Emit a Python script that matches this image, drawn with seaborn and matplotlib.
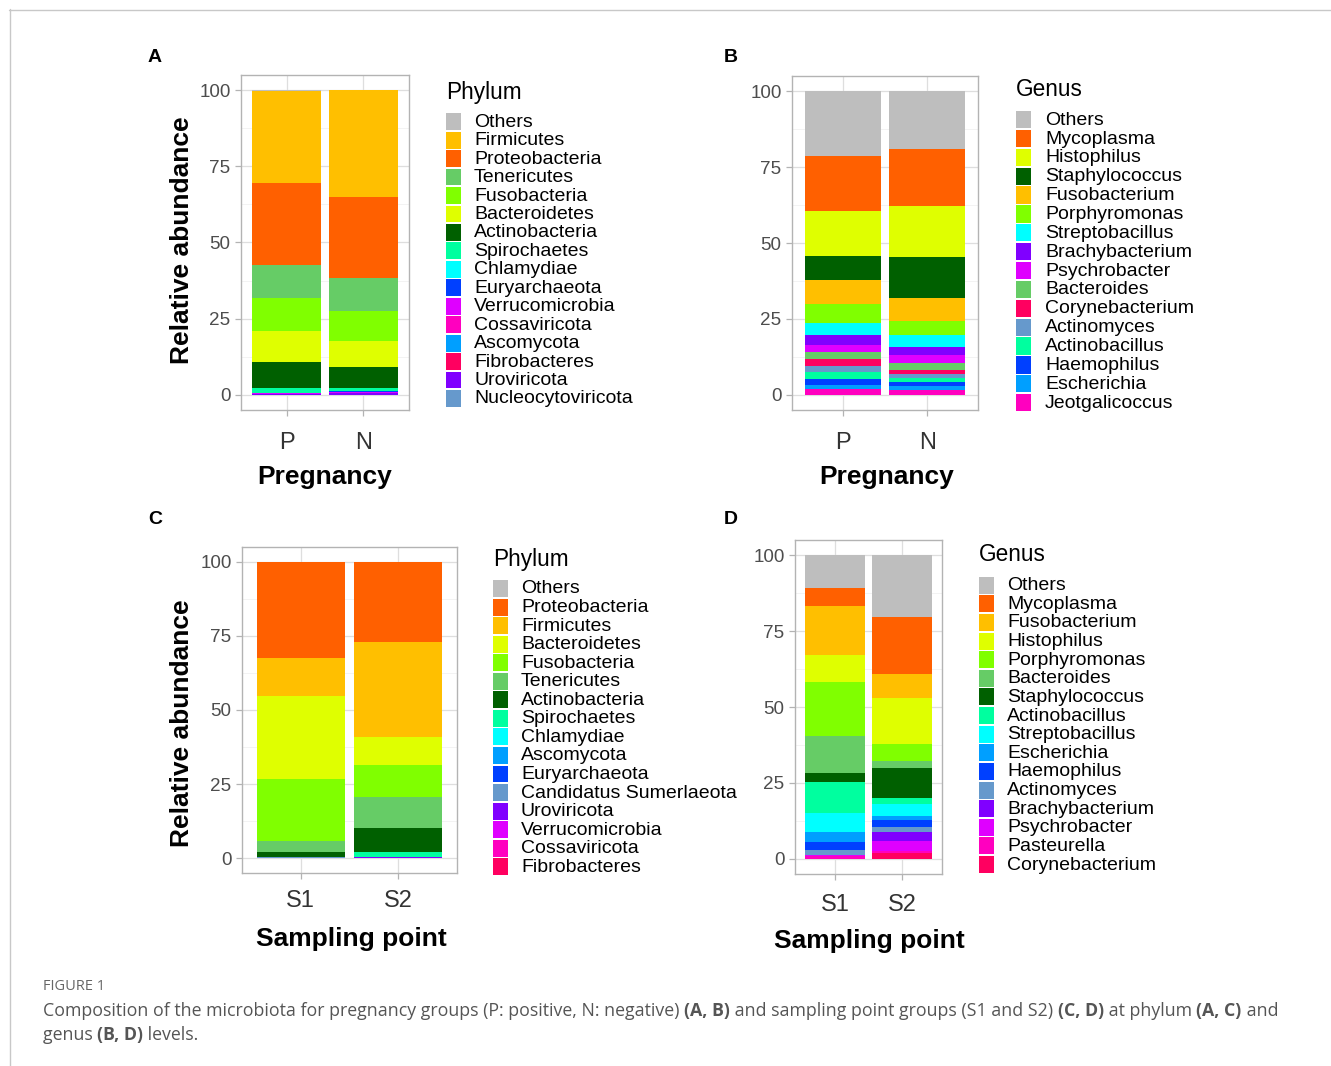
import numpy as np
import pandas as pd
import matplotlib
matplotlib.use("Agg")
import matplotlib.pyplot as plt
import seaborn as sns
from matplotlib.patches import Rectangle
from matplotlib.lines import Line2D

# ---------------- data ----------------
phylum_a = ["Others", "Firmicutes", "Proteobacteria", "Tenericutes", "Fusobacteria",
            "Bacteroidetes", "Actinobacteria", "Spirochaetes", "Chlamydiae", "Euryarchaeota",
            "Verrucomicrobia", "Cossaviricota", "Ascomycota", "Fibrobacteres", "Uroviricota",
            "Nucleocytoviricota"]
groups_ab = ["P", "N"]
a_P = [0.02, 30.2, 27.1, 10.7, 10.8, 10.2, 8.7, 1.5, 0.1, 0.1, 0.1, 0.1, 0.1, 0.05, 0.1, 0.05]
a_N = [0.02, 35.3, 26.6, 10.8, 9.8, 8.6, 6.7, 1.1, 0.1, 0.3, 0.1, 0.1, 0.1, 0.05, 0.4, 0.05]

genus_b = ["Others", "Mycoplasma", "Histophilus", "Staphylococcus", "Fusobacterium",
           "Porphyromonas", "Streptobacillus", "Brachybacterium", "Psychrobacter", "Bacteroides",
           "Corynebacterium", "Actinomyces", "Actinobacillus", "Haemophilus", "Escherichia",
           "Jeotgalicoccus"]
b_P = [21.2, 18.4, 14.6, 7.9, 7.9, 6.2, 4.1, 3.3, 2.2, 2.4, 2.4, 1.9, 2.2, 2.2, 1.3, 1.8]
b_N = [19.2, 18.7, 16.8, 13.5, 7.6, 4.5, 3.8, 2.7, 2.7, 2.2, 1.4, 1.3, 1.3, 1.4, 1.4, 1.5]

phylum_c = ["Others", "Proteobacteria", "Firmicutes", "Bacteroidetes", "Fusobacteria",
            "Tenericutes", "Actinobacteria", "Spirochaetes", "Chlamydiae", "Ascomycota",
            "Euryarchaeota", "Candidatus Sumerlaeota", "Uroviricota", "Verrucomicrobia",
            "Cossaviricota", "Fibrobacteres"]
groups_cd = ["S1", "S2"]
c_S1 = [0.02, 32.5, 12.8, 28.0, 20.9, 3.6, 1.7, 0.1, 0.05, 0.05, 0.05, 0.05, 0.05, 0.05, 0.05, 0.05]
c_S2 = [0.02, 26.9, 32.3, 9.4, 10.6, 10.6, 8.1, 1.5, 0.05, 0.05, 0.05, 0.05, 0.2, 0.05, 0.05, 0.05]

genus_d = ["Others", "Mycoplasma", "Fusobacterium", "Histophilus", "Porphyromonas",
           "Bacteroides", "Staphylococcus", "Actinobacillus", "Streptobacillus", "Escherichia",
           "Haemophilus", "Actinomyces", "Brachybacterium", "Psychrobacter", "Pasteurella",
           "Corynebacterium"]
d_S1 = [11.0, 6.0, 16.1, 8.8, 17.6, 12.2, 3.0, 10.2, 6.3, 3.5, 2.5, 1.6, 0.1, 0.3, 0.8, 0.1]
d_S2 = [20.3, 18.8, 7.8, 15.3, 5.5, 2.4, 9.9, 1.8, 4.2, 1.3, 2.2, 1.6, 2.9, 3.5, 0.5, 2.0]

# ---------------- colours ----------------
GRAY, ORANGE, AMBER, YELLOW = "#BEBEBE", "#FF6000", "#FFBF00", "#DFFF00"
CHART, MGREEN, DGREEN, SPRING = "#80FF00", "#66CC66", "#006000", "#00FF9F"
CYAN, BLUE, VIOLET, MAGENTA = "#00FFFF", "#0040FF", "#8000FF", "#DF00FF"
PINK, AZURE, RED, STEEL = "#FF00BF", "#009FFF", "#FF0060", "#6699CC"

colors = {
    "Others": GRAY, "Firmicutes": AMBER, "Proteobacteria": ORANGE, "Tenericutes": MGREEN,
    "Fusobacteria": CHART, "Bacteroidetes": YELLOW, "Actinobacteria": DGREEN,
    "Spirochaetes": SPRING, "Chlamydiae": CYAN, "Euryarchaeota": BLUE,
    "Verrucomicrobia": MAGENTA, "Cossaviricota": PINK, "Ascomycota": AZURE,
    "Fibrobacteres": RED, "Uroviricota": VIOLET, "Nucleocytoviricota": STEEL,
    "Candidatus Sumerlaeota": STEEL,
    "Mycoplasma": ORANGE, "Histophilus": YELLOW, "Staphylococcus": DGREEN,
    "Fusobacterium": AMBER, "Porphyromonas": CHART, "Streptobacillus": CYAN,
    "Brachybacterium": VIOLET, "Psychrobacter": MAGENTA, "Bacteroides": MGREEN,
    "Corynebacterium": RED, "Actinomyces": STEEL, "Actinobacillus": SPRING,
    "Haemophilus": BLUE, "Escherichia": AZURE, "Jeotgalicoccus": PINK, "Pasteurella": PINK,
}

# ---------------- style ----------------
sns.set_theme(style="white")
plt.rcParams["font.family"] = ["Liberation Sans", "DejaVu Sans"]

W, H = 1331, 1066
fig = plt.figure(figsize=(W / 100, H / 100), dpi=100, facecolor="white")

ax_bg = fig.add_axes([0, 0, 1, 1], zorder=0)
ax_bg.set_xlim(0, W)
ax_bg.set_ylim(H, 0)
ax_bg.axis("off")

# frame lines of the figure page
ax_bg.add_line(Line2D([9, W], [9.5, 9.5], color="#C8C8C8", lw=1.0))
ax_bg.add_line(Line2D([9.5, 9.5], [9, H], color="#C8C8C8", lw=1.0))


def px_rect(l, t, r, b):
    return [l / W, 1 - b / H, (r - l) / W, (b - t) / H]


def stacked_panel(rect, taxa, groups, series, xlabel, xlab_xy, ylabel_xy, xpad):
    ax = fig.add_axes(px_rect(*rect), zorder=2)
    rows = []
    for g, vals in zip(groups, series):
        vals = np.array(vals, dtype=float)
        tops = np.cumsum(vals[::-1])[::-1]  # cumulative from bottom
        for t, v, top in zip(taxa, vals, tops):
            rows.append(dict(group=g, taxon=t, value=v, top=top))
    df = pd.DataFrame(rows)
    for t in taxa:  # draw tallest (top of stack) first
        sub = df[df.taxon == t]
        sns.barplot(data=sub, x="group", y="top", order=groups, color=colors[t],
                    saturation=1, width=0.9, errorbar=None, linewidth=0, ax=ax,
                    zorder=3)
    ax.set_xlim(-0.6, 1.6)
    ax.set_ylim(-5, 105)
    ax.set_yticks([0, 25, 50, 75, 100])
    ax.set_yticks([12.5, 37.5, 62.5, 87.5], minor=True)
    ax.set_xticks([0, 1])
    ax.set_xticklabels(groups)
    ax.set_facecolor("white")
    ax.grid(True, which="major", color="#DEDEDE", lw=0.9, zorder=0)
    ax.grid(True, which="minor", axis="y", color="#EEEEEE", lw=0.5, zorder=0)
    ax.set_axisbelow(True)
    for s in ax.spines.values():
        s.set_color("#B3B3B3")
        s.set_linewidth(1.0)
        s.set_visible(True)
    ax.tick_params(axis="y", which="major", length=4.5, width=0.9, color="#B3B3B3",
                   labelsize=13.6, labelcolor="#4D4D4D", pad=3, left=True)
    ax.tick_params(axis="y", which="minor", length=0)
    ax.tick_params(axis="x", which="major", length=4.5, width=0.9, color="#B3B3B3",
                   labelsize=17, labelcolor="#333333", pad=xpad, bottom=True)
    ax.set_ylabel("")
    ax.set_xlabel(xlabel, fontsize=19, fontweight="bold", color="black", va="baseline")
    ax.xaxis.set_label_coords(xlab_xy[0], xlab_xy[1], transform=ax_bg.transData)
    if ylabel_xy is not None:
        ax.set_ylabel("Relative abundance", fontsize=19, fontweight="bold",
                      color="black", va="center", ha="center")
        ax.yaxis.set_label_coords(ylabel_xy[0], ylabel_xy[1], transform=ax_bg.transData)
    return ax


def legend_block(x, title_baseline, key_top, pitch, text_x, title, taxa):
    ax_bg.text(x, title_baseline, title, fontsize=16.3, color="black",
               va="baseline", ha="left")
    for i, t in enumerate(taxa):
        y = key_top + i * pitch
        ax_bg.add_patch(Rectangle((x, y), 15, pitch - 1.6, facecolor=colors[t],
                                  edgecolor="none"))
        ax_bg.text(text_x, y + (pitch - 1.6) / 2 + 0.5, t, fontsize=14, color="black",
                   va="center", ha="left")


stacked_panel((241, 75, 409, 410), phylum_a, groups_ab, [a_P, a_N], "Pregnancy",
              (325, 484), (182, 240), 11.5)
stacked_panel((792, 76, 978, 410), genus_b, groups_ab, [b_P, b_N], "Pregnancy",
              (887, 484), None, 11.5)
stacked_panel((242, 547, 457, 873), phylum_c, groups_cd, [c_S1, c_S2], "Sampling point",
              (351, 946), (182, 723), 8)
stacked_panel((795, 540, 942, 874), genus_d, groups_cd, [d_S1, d_S2], "Sampling point",
              (869, 948), None, 10)

legend_block(446, 98.5, 113.3, 18.45, 474, "Phylum", phylum_a)
legend_block(1016, 95.7, 111.0, 18.87, 1045, "Genus", genus_b)
legend_block(493, 566, 580.0, 18.55, 521, "Phylum", phylum_c)
legend_block(979, 560.7, 576.7, 18.62, 1007, "Genus", genus_d)

for lab, (x, y) in zip("ABCD", [(155, 57), (731, 57), (155, 520), (731, 520)]):
    ax_bg.text(x, y, lab, fontsize=14, fontweight="bold", color="black",
               ha="center", va="center")

# ---------------- caption ----------------
cap_font = ["Open Sans", "DejaVu Sans"]
ax_bg.text(43, 990, "FIGURE 1", fontsize=10.5, color="#666666", family=cap_font,
           ha="left", va="baseline")


def caption_line(x, y_bottom, parts, size=12.8):
    t = None
    for txt, bold in parts:
        kw = dict(fontsize=size, color="#555555", family=cap_font,
                  fontweight="bold" if bold else "normal", ha="left", va="bottom")
        if t is None:
            t = ax_bg.text(x, y_bottom, txt, **kw)
        else:
            t = ax_bg.annotate(txt, xy=(1, 0), xycoords=t, **kw)


caption_line(43, 1020, [
    ("Composition of the microbiota for pregnancy groups (P: positive, N: negative) ", False),
    ("(A, B)", True),
    (" and sampling point groups (S1 and S2) ", False),
    ("(C, D)", True),
    (" at phylum ", False),
    ("(A, C)", True),
    (" and", False),
])
caption_line(43, 1044, [
    ("genus ", False),
    ("(B, D)", True),
    (" levels.", False),
])

fig.savefig("out.png", dpi=100, facecolor="white")
